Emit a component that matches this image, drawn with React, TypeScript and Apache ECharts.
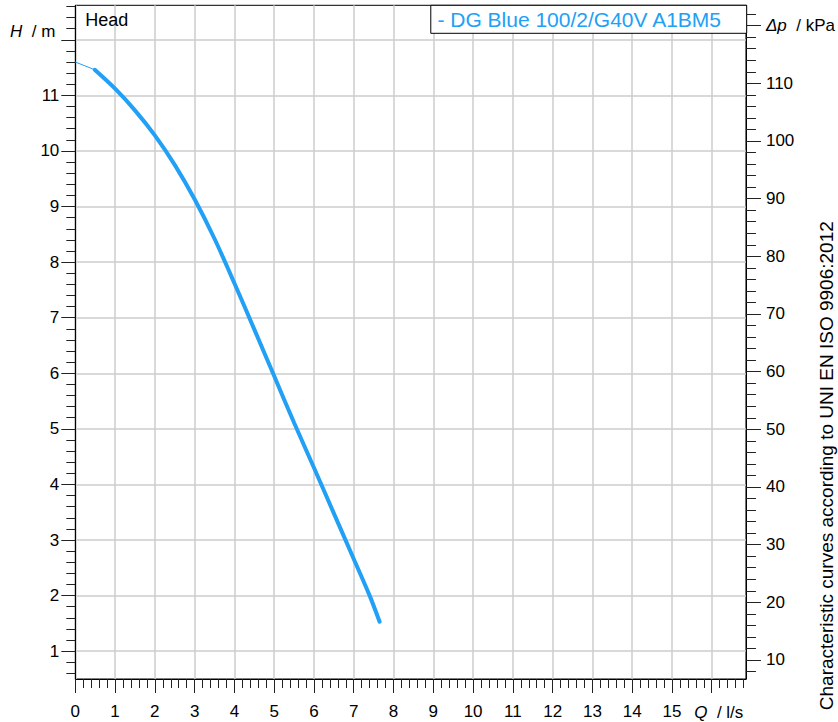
import React, { useEffect, useRef } from "react";
import * as echarts from "echarts";

// ---- data ----
const FLOW_TICKS = [0, 1, 2, 3, 4, 5, 6, 7, 8, 9, 10, 11, 12, 13, 14, 15, 16];
const FLOW_LABELS = [0, 1, 2, 3, 4, 5, 6, 7, 8, 9, 10, 11, 12, 13, 14, 15];
const HEAD_TICKS = [1, 2, 3, 4, 5, 6, 7, 8, 9, 10, 11, 12];
const HEAD_LABELS = [1, 2, 3, 4, 5, 6, 7, 8, 9, 10, 11];
const DP_TICKS = [10, 20, 30, 40, 50, 60, 70, 80, 90, 100, 110, 120];

const FLOW_MIN = 0;
const FLOW_MAX = 16.86;
const HEAD_MIN = 0.5;
const HEAD_MAX = 12.62;
const DP_MIN = 6.7;
const DP_MAX = 123.53;

// extrapolated (thin) part of the head curve, Q in l/s, H in m
const headThin: [number, number][] = [
  [0, 11.6],
  [0.49, 11.46],
];
// measured (thick) part of the head curve
const headCurve: [number, number][] = [
  [0.49, 11.46],
  [1, 11.12],
  [1.5, 10.73],
  [2, 10.28],
  [2.5, 9.75],
  [3, 9.13],
  [3.5, 8.42],
  [4, 7.62],
  [4.5, 6.79],
  [5, 5.95],
  [5.5, 5.11],
  [6, 4.3],
  [6.5, 3.48],
  [7, 2.66],
  [7.4, 2.0],
  [7.65, 1.53],
];

const SERIES_NAME = "DG Blue 100/2/G40V A1BM5";
const TITLE = "Head";
const FOOTNOTE = "Characteristic curves according to UNI EN ISO 9906:2012";

const BLUE = "#21a0f5";
const FONT = "'Liberation Sans', Arial, sans-serif";
const GRID = { left: 75.3, right: 91.3, top: 5.3, bottom: 43 };

export default function App() {
  const ref = useRef<HTMLDivElement>(null);

  useEffect(() => {
    if (!ref.current) return;
    const chart = echarts.init(ref.current, null, { renderer: "svg" });

    const tickStyle = { color: "#222", width: 1 };
    const labelBase = { fontSize: 17, color: "#000", fontFamily: FONT };

    const option: any = {
      animation: false,
      backgroundColor: "#fff",
      grid: {
        ...GRID,
        show: true,
        borderColor: "#000",
        borderWidth: 1,
        backgroundColor: "transparent",
        containLabel: false,
      },
      legend: {
        show: true,
        data: [SERIES_NAME],
        right: GRID.right,
        top: GRID.top,
        orient: "horizontal",
        icon: "none",
        itemWidth: 0,
        itemHeight: 14,
        padding: [3.5, 24.5, 3.5, 1.6],
        borderColor: "#000",
        borderWidth: 1,
        backgroundColor: "#fff",
        selectedMode: false,
        formatter: (name: string) => "- " + name,
        textStyle: {
          color: BLUE,
          fontSize: 21,
          fontFamily: FONT,
          lineHeight: 21,
        },
      },
      xAxis: {
        type: "value",
        min: FLOW_MIN,
        max: FLOW_MAX,
        interval: 1,
        axisLine: { show: true, onZero: false, lineStyle: { color: "#000", width: 1 } },
        axisTick: {
          show: true,
          inside: false,
          length: 14,
          customValues: FLOW_TICKS,
          lineStyle: tickStyle,
        },
        minorTick: { show: true, splitNumber: 5, length: 9, lineStyle: tickStyle },
        axisLabel: {
          ...labelBase,
          margin: 24,
          customValues: FLOW_LABELS,
          formatter: (v: number) => String(v),
        },
        splitLine: { show: true, lineStyle: { color: "#cccccc", width: 1.5 } },
        minorSplitLine: { show: false },
      },
      yAxis: [
        {
          type: "value",
          position: "left",
          min: HEAD_MIN,
          max: HEAD_MAX,
          splitNumber: 12,
          minInterval: 1,
          maxInterval: 1,
          axisLine: { show: true, onZero: false, lineStyle: { color: "#000", width: 1 } },
          axisTick: {
            show: true,
            inside: false,
            length: 14,
            customValues: HEAD_TICKS,
            lineStyle: tickStyle,
          },
          minorTick: { show: true, splitNumber: 5, length: 9, lineStyle: tickStyle },
          axisLabel: {
            ...labelBase,
            margin: 16,
            customValues: HEAD_LABELS,
            formatter: (v: number) => String(v),
          },
          splitLine: { show: true, lineStyle: { color: "#cccccc", width: 1.5 } },
          minorSplitLine: { show: false },
        },
        {
          type: "value",
          position: "right",
          min: DP_MIN,
          max: DP_MAX,
          splitNumber: 12,
          minInterval: 10,
          maxInterval: 10,
          alignTicks: false,
          axisLine: { show: true, onZero: false, lineStyle: { color: "#000", width: 1 } },
          axisTick: {
            show: true,
            inside: false,
            length: 15,
            customValues: DP_TICKS,
            lineStyle: tickStyle,
          },
          minorTick: { show: true, splitNumber: 5, length: 10, lineStyle: tickStyle },
          axisLabel: {
            ...labelBase,
            margin: 20,
            customValues: DP_TICKS,
            formatter: (v: number) => (v === 120 ? "{i|Δp}  / kPa" : String(v)),
            rich: {
              i: { fontStyle: "italic", fontSize: 17, color: "#000", fontFamily: FONT },
            },
          },
          splitLine: { show: false },
          minorSplitLine: { show: false },
        },
      ],
      series: [
        {
          name: SERIES_NAME + " (extrapolated)",
          type: "line",
          xAxisIndex: 0,
          yAxisIndex: 0,
          data: headThin,
          showSymbol: false,
          symbol: "none",
          silent: true,
          lineStyle: { color: BLUE, width: 1 },
          itemStyle: { color: BLUE },
        },
        {
          name: SERIES_NAME,
          type: "line",
          xAxisIndex: 0,
          yAxisIndex: 0,
          data: headCurve,
          smooth: 0.3,
          showSymbol: false,
          symbol: "none",
          silent: true,
          lineStyle: { color: BLUE, width: 4, cap: "round" },
          itemStyle: { color: BLUE },
        },
      ],
    };

    chart.setOption(option);

    const xAt = (v: number) => chart.convertToPixel({ xAxisIndex: 0 }, v) as number;
    const yAt = (v: number) => chart.convertToPixel({ yAxisIndex: 0 }, v) as number;
    const chartH = chart.getHeight();
    const chartW = chart.getWidth();
    const gridBottomY = chartH - GRID.bottom;

    chart.setOption({
      graphic: [
        {
          type: "text",
          silent: true,
          style: {
            text: TITLE,
            x: GRID.left + 10,
            y: GRID.top + 14.5,
            fill: "#000",
            font: `18px ${FONT}`,
            align: "left",
            verticalAlign: "middle",
          },
        },
        {
          type: "text",
          silent: true,
          style: {
            text: "{i|H}  / m",
            x: GRID.left - 20,
            y: yAt(12) - 8.5,
            fill: "#000",
            font: `17px ${FONT}`,
            align: "right",
            verticalAlign: "middle",
            rich: { i: { fontStyle: "italic", fontSize: 17, fontFamily: FONT } },
          },
        },
        {
          type: "text",
          silent: true,
          style: {
            text: "{i|Q}  / l/s",
            x: xAt(16) - 17.5,
            y: gridBottomY + 33.5,
            fill: "#000",
            font: `17px ${FONT}`,
            align: "left",
            verticalAlign: "middle",
            rich: { i: { fontStyle: "italic", fontSize: 17, fontFamily: FONT } },
          },
        },
        {
          type: "text",
          silent: true,
          x: chartW - 12,
          y: 465.7,
          rotation: Math.PI / 2,
          style: {
            text: FOOTNOTE,
            x: 0,
            y: 0,
            fill: "#000",
            font: `19px ${FONT}`,
            align: "center",
            verticalAlign: "middle",
          },
        },
      ],
    });

    return () => chart.dispose();
  }, []);

  return (
    <div
      ref={ref}
      style={{ position: "absolute", left: 0, top: 0, width: 838, height: 722, background: "#fff" }}
    />
  );
}
